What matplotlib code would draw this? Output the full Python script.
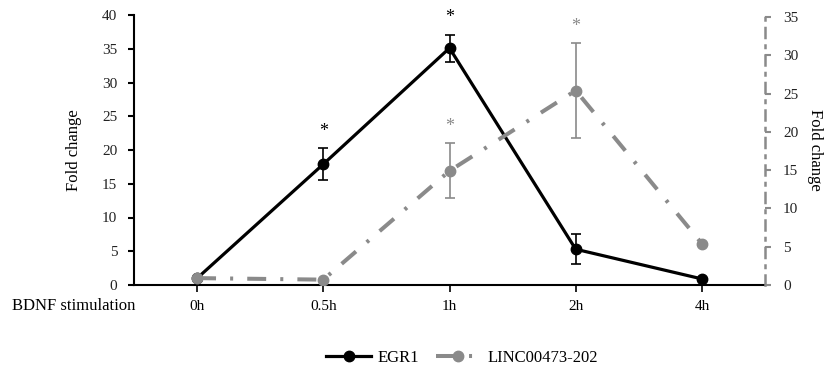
import numpy as np
import matplotlib.pyplot as plt

plt.rcParams['font.family'] = ['Liberation Serif', 'DejaVu Serif']

# data
times = ['0h', '0.5h', '1h', '2h', '4h']
egr1 = [1.0, 17.9, 35.1, 5.3, 0.9]
egr1_err = [0.0, 2.4, 2.0, 2.2, 0.0]
linc = [0.9, 0.7, 14.9, 25.4, 5.4]
linc_err = [0.0, 0.0, 3.6, 6.2, 0.0]
egr1_sig = [False, True, True, False, False]
linc_sig = [False, False, True, True, False]

grey = '#8a8a8a'
dashdot = (0, (4.7, 3.5, 0.75, 3.5))

x = np.arange(len(times))

fig = plt.figure(figsize=(8.24, 3.70), dpi=100)
ax = fig.add_axes([134/824, 1 - 285/370, (765 - 134)/824, 270/370])
ax2 = ax.twinx()

# EGR1 on the left axis
eb1 = ax.errorbar(x, egr1, yerr=egr1_err, color='black', lw=2.3, marker='o', ms=7.5,
                  capsize=3.5, elinewidth=1.2, capthick=1.2, zorder=5)
for xi, v, e, s in zip(x, egr1, egr1_err, egr1_sig):
    if s:
        ax.annotate('*', (xi, v + e), xytext=(0, 12), textcoords='offset points',
                    ha='center', va='center', fontsize=13, color='black')

# LINC00473-202 on the right axis
eb2 = ax2.errorbar(x, linc, yerr=linc_err, color=grey, lw=2.9, ls=dashdot, marker='o',
                   ms=7.5, capsize=3.5, elinewidth=1.2, capthick=1.2, zorder=4)
for xi, v, e, s in zip(x, linc, linc_err, linc_sig):
    if s:
        ax2.annotate('*', (xi, v + e), xytext=(0, 12), textcoords='offset points',
                     ha='center', va='center', fontsize=13, color=grey)

ax.set_xlim(-0.5, 4.5)
ax.set_ylim(0, 40)
ax2.set_ylim(0, 35.26)
ax.set_yticks(range(0, 41, 5))
ax2.set_yticks(range(0, 36, 5))
ax.set_xticks(x)
ax.set_xticklabels(times)

for s in ['top', 'right']:
    ax.spines[s].set_visible(False)
for s in ['top', 'left', 'bottom']:
    ax2.spines[s].set_visible(False)
ax.spines['left'].set_linewidth(1.5)
ax.spines['bottom'].set_linewidth(1.5)
ax2.spines['right'].set_color(grey)
ax2.spines['right'].set_linewidth(1.8)
ax2.spines['right'].set_linestyle((0, (4, 3, 1, 3)))

ax.tick_params(axis='y', direction='out', length=4, width=1.5, labelsize=11, pad=8,
               labelcolor='#222222')
ax.tick_params(axis='x', direction='out', length=5, width=1.2, labelsize=11, pad=6)
ax2.tick_params(axis='y', direction='out', length=4, width=1.5, colors=grey,
                labelcolor='#222222', labelsize=11, pad=9)

ax.set_ylabel('Fold change', fontsize=12)
ax.yaxis.set_label_coords(-0.082, 0.5)
ax2.set_ylabel('Fold change', fontsize=12, rotation=270, va='center')
ax2.yaxis.set_label_coords(1.08, 0.5)

fig.text(12/824, 1 - 306/370, 'BDNF stimulation', fontsize=12, va='center', ha='left')

fig.legend([eb1[0], eb2[0]], ['EGR1', 'LINC00473-202'], loc='center',
           bbox_to_anchor=(462/824, 1 - 358/370), ncol=2, frameon=False, fontsize=12,
           handlelength=2.7, columnspacing=1.0, handletextpad=0.4)

fig.savefig('out.png', dpi=100)
